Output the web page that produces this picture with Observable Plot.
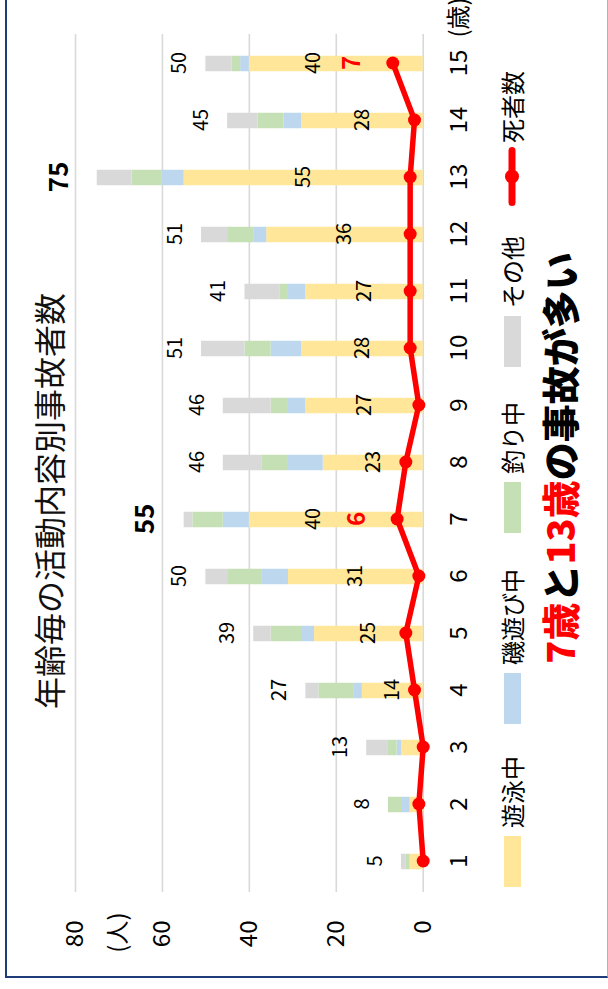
<!DOCTYPE html>
<html>
<head>
<meta charset="utf-8">
<script src="https://cdn.jsdelivr.net/npm/d3@7"></script>
<script src="https://cdn.jsdelivr.net/npm/@observablehq/plot@0.6"></script>
<style>
  html, body { margin: 0; padding: 0; width: 608px; height: 989px; overflow: hidden; background: #fff; }
  #rot { position: absolute; left: 0; top: 0; width: 989px; height: 608px;
         transform-origin: 0 0; transform: translate(0px, 989px) rotate(-90deg);
         font-family: "Noto Sans CJK JP", "Noto Sans", sans-serif; color: #000; }
  #frame { position: absolute; left: 11px; top: 5px; width: 1000px; height: 603px; box-sizing: border-box;
           border-left: 2px solid #1F3C7A; border-top: 2px solid #1F3C7A; border-bottom: 1.5px solid #aab3c6; }
  #title { position: absolute; left: 0; width: 976px; top: 30px; text-align: center;
           font-size: 32px; line-height: 36px; color: #111; }
  #chart { position: absolute; left: 0; top: 0; }
  .lg { position: absolute; top: 494px; height: 36px; display: flex; align-items: center; font-size: 24px; line-height: 36px; }
  .sw { display: inline-block; width: 51px; height: 17px; margin-right: 8px; }
  #note { position: absolute; left: 0; width: 1062px; top: 537px; text-align: center; font-size: 38px;
          line-height: 44px; font-weight: 900; color: #000; }
  #note .r { color: #FF0000; }
</style>
</head>
<body>
<div id="rot">
  <div id="frame"></div>
  <div id="chart"></div>
  <div id="title">年齢毎の活動内容別事故者数</div>
  <div id="legend"></div>
  <div id="note"><span class="r">7歳</span>と<span class="r">13歳</span>の事故が多い</div>
</div>
<script>
// ---- data ----
const ages = [1, 2, 3, 4, 5, 6, 7, 8, 9, 10, 11, 12, 13, 14, 15];
const swimming = [3, 3, 5, 14, 25, 31, 40, 23, 27, 28, 27, 36, 55, 28, 40];   // 遊泳中
const isoAsobi = [0, 2, 1, 2, 3, 6, 6, 8, 4, 7, 4, 3, 5, 4, 2];              // 磯遊び中
const fishing  = [1, 3, 2, 8, 7, 8, 7, 6, 4, 6, 2, 6, 7, 6, 2];              // 釣り中
const other    = [1, 0, 5, 3, 4, 5, 2, 9, 11, 10, 8, 6, 8, 7, 6];            // その他
const totals   = [5, 8, 13, 27, 39, 50, 55, 46, 46, 51, 41, 51, 75, 45, 50];
const deaths   = [0, 1, 0, 2, 4, 1, 6, 4, 1, 3, 3, 3, 3, 2, 7];               // 死者数
const seriesNames = ["遊泳中", "磯遊び中", "釣り中", "その他"];
const seriesColors = ["#FFE699", "#BDD7EE", "#C5E0B4", "#D9D9D9"];
const lineName = "死者数";
const lineColor = "#FF0000";
const yTicks = [0, 20, 40, 60, 80];
const highlightAges = [7, 13];       // bold total labels
const deathLabelAges = [7, 15];      // red death-count labels
const swimUnlabeledAges = [1, 2, 3]; // no swimming label shown
const xUnit = "(歳)";
const yUnit = "(人)";

// ---- tables ----
const seriesValues = [swimming, isoAsobi, fishing, other];
const rows = [];
ages.forEach((a, i) => seriesNames.forEach((s, k) => rows.push({age: a, type: s, value: seriesValues[k][i]})));
const ageRows = ages.map((a, i) => ({age: a, swim: swimming[i], total: totals[i], deaths: deaths[i]}));
const swimRows = ageRows.filter(d => !swimUnlabeledAges.includes(d.age));

const font = '"Noto Sans CJK JP", "Noto Sans", sans-serif';
const plot = Plot.plot({
  width: 989, height: 480,
  marginLeft: 97, marginRight: 34, marginTop: 75, marginBottom: 57.3,
  style: {fontFamily: font, fontSize: "24px", color: "#000", background: "transparent", overflow: "visible"},
  x: {type: "band", domain: ages, padding: 0, label: null},
  y: {domain: [0, 80], label: null},
  color: {domain: seriesNames, range: seriesColors},
  marks: [
    Plot.gridY(yTicks, {stroke: "#D9D9D9", strokeOpacity: 1, strokeWidth: 1.6}),
    Plot.barY(rows, {x: "age", y: "value", fill: "type", insetLeft: 20.75, insetRight: 20.75}),
    Plot.axisX({tickSize: 0, tickPadding: 27, label: null, fontSize: 24}),
    Plot.axisY({ticks: yTicks, tickSize: 0, tickPadding: 29, label: null, fontSize: 24}),
    Plot.text([xUnit], {frameAnchor: "bottom-right", textAnchor: "start", lineAnchor: "top", dx: -4, dy: 27, fontSize: 24}),
    Plot.text([yUnit], {frameAnchor: "top-left", textAnchor: "end", dx: -21, dy: 33, fontSize: 24}),
    Plot.line(ageRows, {x: "age", y: "deaths", stroke: lineColor, strokeWidth: 5.5, strokeLinejoin: "round"}),
    Plot.dot(ageRows, {x: "age", y: "deaths", fill: lineColor, r: 6.5}),
    Plot.text(swimRows.filter(d => !deathLabelAges.includes(d.age)), {x: "age", y: d => d.swim / 2, text: "swim", fontSize: 20}),
    Plot.text(swimRows.filter(d => deathLabelAges.includes(d.age)), {x: "age", y: d => d.swim / 2, text: "swim", fontSize: 20, dy: -23}),
    Plot.text(ageRows.filter(d => !highlightAges.includes(d.age)), {x: "age", y: "total", text: "total", fontSize: 20, dy: -26}),
    Plot.text(ageRows.filter(d => highlightAges.includes(d.age)), {x: "age", y: "total", text: "total", fontSize: 26, fontWeight: "bold", dy: -38}),
    Plot.text(ageRows.filter(d => deathLabelAges.includes(d.age)), {x: "age", y: "deaths", text: "deaths", fill: lineColor, fontSize: 24, fontWeight: "bold", dy: -40})
  ]
});
document.getElementById("chart").appendChild(plot);

// ---- legend ----
const legend = document.getElementById("legend");
const swLefts = [102, 265, 456, 622];
seriesNames.forEach((s, k) => {
  const item = document.createElement("div");
  item.className = "lg";
  item.style.left = swLefts[k] + "px";
  item.innerHTML = `<span class="sw" style="background:${seriesColors[k]}"></span><span>${s}</span>`;
  legend.appendChild(item);
});
const li = document.createElement("div");
li.className = "lg";
li.style.left = "783px";
li.innerHTML = `<svg width="59" height="20" style="margin-right:4px"><line x1="3.5" y1="10" x2="55.5" y2="10" stroke="${lineColor}" stroke-width="7" stroke-linecap="round"/><circle cx="29.5" cy="10" r="7" fill="${lineColor}"/></svg><span>${lineName}</span>`;
legend.appendChild(li);
</script>
</body>
</html>
